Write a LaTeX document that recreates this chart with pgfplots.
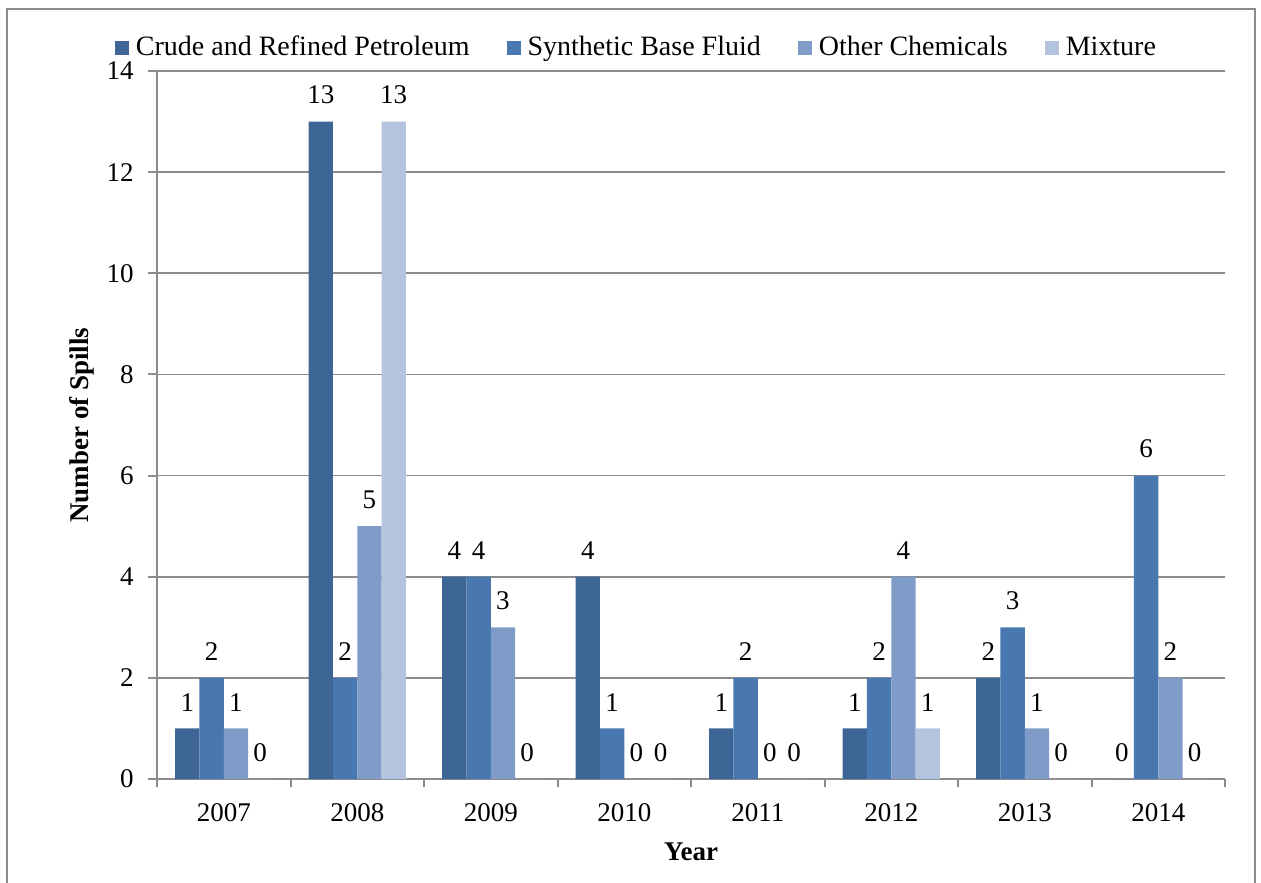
\documentclass[border=0pt]{standalone}
\usepackage{pgfplots}
\pgfplotsset{compat=1.18}
\usepackage{fontspec}
\setmainfont{Liberation Serif}
\definecolor{cCrude}{RGB}{61,101,150}
\definecolor{cSyn}{RGB}{73,120,177}
\definecolor{cOther}{RGB}{127,156,200}
\definecolor{cMix}{RGB}{181,196,222}
\definecolor{gridc}{RGB}{140,140,140}
\begin{document}
\fontsize{13.5}{16}\selectfont
\begin{tikzpicture}
\useasboundingbox (0,0) rectangle (630.5pt,441pt);
\draw[gridc, line width=1pt] (3.5pt,-2pt) -- (3.5pt,436.5pt) -- (627.5pt,436.5pt) -- (627.5pt,-2pt);
\begin{axis}[
  at={(78.5pt,51.5pt)}, anchor=south west,
  scale only axis, width=534pt, height=354pt,
  font=\fontsize{13.5}{16}\selectfont,
  /pgf/number format/assume math mode=true,
  ybar=0pt, bar width=12.15pt,
  xmin=-0.5, xmax=7.5, ymin=0, ymax=14,
  xtick={0,...,7}, xticklabels={2007,2008,2009,2010,2011,2012,2013,2014},
  minor xtick={-0.5,0.5,...,7.5},
  ytick={0,2,...,14},
  axis x line*=bottom, axis y line*=left,
  axis line style={gridc, line width=1pt},
  tick align=outside,
  major tick length=4.5pt, minor tick length=4pt,
  major x tick style={draw=none},
  minor x tick style={gridc, line width=1pt},
  ytick style={gridc, line width=1pt},
  ymajorgrids, grid style={gridc, line width=0.8pt},
  x tick label style={yshift=-3pt},
  y tick label style={xshift=-2.5pt},
  xlabel={\bfseries Year},
  ylabel={\bfseries Number of Spills},
  xlabel style={at={(axis description cs:0.5,-0.1031)}, anchor=center},
  ylabel style={at={(axis description cs:-0.0702,0.5)}, anchor=center},
  legend style={at={(axis description cs:0.4494,1.0325)}, anchor=center,
    draw=none, fill=none, legend columns=4,
    /tikz/every odd column/.append style={column sep=2pt},
    /tikz/every even column/.append style={column sep=17pt},
    nodes={inner sep=1.5pt},
    font=\fontsize{14}{16}\selectfont},
  nodes near coords,
  every node near coord/.append style={anchor=south, yshift=4pt, black, font=\fontsize{13.5}{16}\selectfont},
  clip=false,
]
\addplot[fill=cCrude, draw=none, legend image code/.code={\fill[cCrude] (0pt,-3.5pt) rectangle (7pt,3.5pt);}]
  coordinates {(0,1)(1,13)(2,4)(3,4)(4,1)(5,1)(6,2)(7,0)};
\addplot[fill=cSyn, draw=none, legend image code/.code={\fill[cSyn] (0pt,-3.5pt) rectangle (7pt,3.5pt);}]
  coordinates {(0,2)(1,2)(2,4)(3,1)(4,2)(5,2)(6,3)(7,6)};
\addplot[fill=cOther, draw=none, legend image code/.code={\fill[cOther] (0pt,-3.5pt) rectangle (7pt,3.5pt);}]
  coordinates {(0,1)(1,5)(2,3)(3,0)(4,0)(5,4)(6,1)(7,2)};
\addplot[fill=cMix, draw=none, legend image code/.code={\fill[cMix] (0pt,-3.5pt) rectangle (7pt,3.5pt);}]
  coordinates {(0,0)(1,13)(2,0)(3,0)(4,0)(5,1)(6,0)(7,0)};
\legend{Crude and Refined Petroleum, Synthetic Base Fluid, Other Chemicals, Mixture}
\end{axis}
\end{tikzpicture}
\end{document}
